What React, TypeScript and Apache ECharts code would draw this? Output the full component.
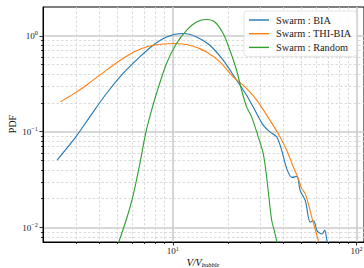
import React, { useEffect, useRef } from 'react';
import * as echarts from 'echarts';

// Axis extents (log axes)
const XMIN = 1.966;
const XMAX = 109.7;
const YMIN = 0.00706;
const YMAX = 1.995;

// Tick positions
const xMajor = [10, 100];
const xMinor = [3, 4, 5, 6, 7, 8, 9, 20, 30, 40, 50, 60, 70, 80, 90];
const yMajor = [0.01, 0.1, 1];
const yMinor = [0.008, 0.009, 0.02, 0.03, 0.04, 0.05, 0.06, 0.07, 0.08, 0.09, 0.2, 0.3, 0.4, 0.5, 0.6, 0.7, 0.8, 0.9];

const seriesNames = ['Swarm : BIA', 'Swarm : THI-BIA', 'Swarm : Random'];
const seriesColors = ['#1f77b4', '#ff7f0e', '#2ca02c'];

// Swarm : BIA
const biaX = [2.344, 2.925, 3.532, 4.355, 5.362, 6.61, 7.81, 9.24, 11.38, 13.46, 15.9, 18.79, 22.23, 25.2, 28.58, 31.03, 33.74, 36.7, 39.1, 41.6, 44.5, 47.3, 49.35, 52.6, 55.97, 58.4, 60.85, 64.8, 67.0, 69.0, 70.2];
const biaY = [0.0505, 0.085, 0.1426, 0.25, 0.404, 0.601, 0.796, 0.972, 1.054, 0.972, 0.796, 0.556, 0.344, 0.24, 0.1548, 0.117, 0.0995, 0.0883, 0.0642, 0.0414, 0.0333, 0.034, 0.0242, 0.019, 0.01133, 0.01178, 0.00927, 0.00855, 0.00942, 0.00729, 0.00675];

// Swarm : THI-BIA
const thiX = [2.445, 2.864, 3.388, 4.004, 4.73, 5.595, 6.61, 7.81, 10.04, 12.38, 15.26, 18.03, 21.3, 24.15, 28.58, 33.74, 38.26, 41.6, 45.2, 48.1, 50.2, 52.4, 54.6, 56.9, 59.3, 62.0];
const thiY = [0.2044, 0.246, 0.305, 0.388, 0.493, 0.611, 0.723, 0.796, 0.829, 0.796, 0.678, 0.533, 0.372, 0.305, 0.213, 0.1318, 0.0883, 0.0642, 0.043, 0.0326, 0.0256, 0.0227, 0.01786, 0.01296, 0.00981, 0.00724];

// Swarm : Random
const rndX = [5.035, 5.62, 6.08, 6.61, 7.08, 7.49, 8.15, 9.24, 10.47, 11.88, 13.46, 15.26, 16.93, 18.79, 20.44, 22.23, 23.66, 25.2, 26.84, 29.15, 31.03, 32.38, 33.46, 34.49, 35.94, 36.98];
const rndY = [0.00673, 0.01256, 0.0216, 0.0459, 0.0919, 0.1426, 0.25, 0.513, 0.829, 1.141, 1.392, 1.475, 1.392, 1.054, 0.706, 0.437, 0.2706, 0.1813, 0.1426, 0.0883, 0.0593, 0.0338, 0.01934, 0.01197, 0.0087, 0.00685];

const FONT = "'Liberation Serif', 'DejaVu Serif', serif";
const TEXT = '#222222';

const pairs = (xs: number[], ys: number[]) => xs.map((x, i) => [x, ys[i]]);

const powLabel = (v: number) => {
  const l = Math.log10(v);
  const e = Math.round(l);
  if (Math.abs(l - e) > 1e-6) return '';
  const es = e < 0 ? '\u2212' + -e : String(e);
  return `{b|10}{s|${es}}`;
};

const labelRich = {
  b: { fontFamily: FONT, fontSize: 9, lineHeight: 12, color: TEXT },
  s: { fontFamily: FONT, fontSize: 6.3, lineHeight: 8, verticalAlign: 'top', color: TEXT },
};

const majorSplit = { show: true, lineStyle: { color: '#cbcbcb', width: 1.6 } };
const minorSplit = { show: true, lineStyle: { color: '#d2d2d2', width: 0.8, type: [2.5, 2] } };
const tickLine = { color: '#000', width: 0.8 };

export default function App() {
  const ref = useRef<HTMLDivElement>(null);
  useEffect(() => {
    if (!ref.current) return;
    const chart = echarts.init(ref.current, undefined, { renderer: 'svg' });
    const option: any = {
      animation: false,
      backgroundColor: '#ffffff',
      grid: {
        left: 43,
        top: 7,
        right: 0,
        bottom: 26,
        show: true,
        borderColor: '#000',
        borderWidth: 1,
        containLabel: false,
        outerBoundsMode: 'none',
      },
      xAxis: [
        {
          type: 'log',
          logBase: 10,
          min: XMIN,
          max: XMAX,
          position: 'bottom',
          axisLine: { show: true, onZero: false, lineStyle: { color: '#000', width: 1 } },
          axisTick: { show: true, customValues: xMajor, length: 3.5, lineStyle: tickLine },
          axisLabel: { show: true, customValues: xMajor, margin: 3, formatter: powLabel, rich: labelRich },
          splitLine: majorSplit,
          minorTick: { show: false },
          minorSplitLine: { show: false },
        },
        {
          type: 'log',
          logBase: 10,
          min: XMIN,
          max: XMAX,
          position: 'bottom',
          offset: 0,
          axisLine: { show: false },
          axisTick: { show: true, customValues: xMinor, length: 2, lineStyle: tickLine },
          axisLabel: { show: false },
          splitLine: minorSplit,
          minorTick: { show: false },
          minorSplitLine: { show: false },
        },
      ],
      yAxis: [
        {
          type: 'log',
          logBase: 10,
          min: YMIN,
          max: YMAX,
          position: 'left',
          axisLine: { show: true, onZero: false, lineStyle: { color: '#000', width: 1 } },
          axisTick: { show: true, customValues: yMajor, length: 3.5, lineStyle: tickLine },
          axisLabel: { show: true, customValues: yMajor, margin: 5, formatter: powLabel, rich: labelRich },
          splitLine: majorSplit,
          minorTick: { show: false },
          minorSplitLine: { show: false },
        },
        {
          type: 'log',
          logBase: 10,
          min: YMIN,
          max: YMAX,
          position: 'left',
          offset: 0,
          axisLine: { show: false },
          axisTick: { show: true, customValues: yMinor, length: 2, lineStyle: tickLine },
          axisLabel: { show: false },
          splitLine: minorSplit,
          minorTick: { show: false },
          minorSplitLine: { show: false },
        },
      ],
      legend: {
        orient: 'vertical',
        left: 244,
        top: 11,
        icon: 'rect',
        itemWidth: 20,
        itemHeight: 1.4,
        itemGap: 1.7,
        padding: [3, 5, 3, 5],
        backgroundColor: 'rgba(255,255,255,0.8)',
        borderColor: '#dddddd',
        borderWidth: 0.8,
        borderRadius: 3,
        textStyle: { fontFamily: FONT, fontSize: 10.3, lineHeight: 12, color: TEXT, padding: [0, 0, 0, 2] },
        data: seriesNames,
      },
      series: [
        { x: biaX, y: biaY },
        { x: thiX, y: thiY },
        { x: rndX, y: rndY },
      ].map((s, i) => ({
        type: 'line',
        name: seriesNames[i],
        xAxisIndex: 0,
        yAxisIndex: 0,
        data: pairs(s.x, s.y),
        symbol: 'none',
        smooth: 0.3,
        clip: true,
        color: seriesColors[i],
        itemStyle: { color: seriesColors[i] },
        lineStyle: { color: seriesColors[i], width: 1.1 },
        z: 3,
      })),
      graphic: [
        {
          type: 'text',
          x: 203,
          y: 262,
          style: {
            text: '{i|V/V}{sub|bubble}',
            align: 'center',
            verticalAlign: 'middle',
            rich: {
              i: { fontFamily: FONT, fontStyle: 'italic', fontSize: 10, lineHeight: 12, color: TEXT },
              sub: { fontFamily: FONT, fontStyle: 'italic', fontSize: 6.5, lineHeight: 12, verticalAlign: 'bottom', color: TEXT },
            },
          },
        },
        {
          type: 'text',
          x: 12,
          y: 124,
          rotation: Math.PI / 2,
          style: {
            text: 'PDF',
            align: 'center',
            verticalAlign: 'middle',
            fontFamily: FONT,
            fontSize: 10,
            fill: TEXT,
          },
        },
      ],
    };
    chart.setOption(option);
    return () => chart.dispose();
  }, []);
  return (
    <div
      ref={ref}
      style={{ position: 'fixed', left: 0, top: 0, width: 364, height: 268, background: '#fff' }}
    />
  );
}
